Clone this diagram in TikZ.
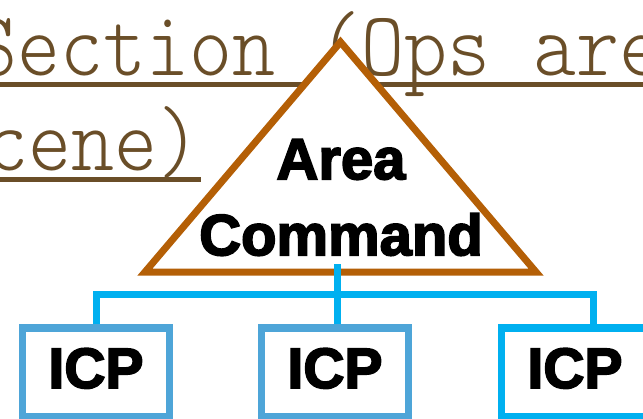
\documentclass[tikz,border=0pt]{standalone}
\usepackage{fontspec}
\newfontfamily\labfont[BoldFeatures={FakeBold=3}]{Liberation Sans}
\newfontfamily\bgfont{Latin Modern Mono Light}
\definecolor{txtbrown}{RGB}{106,78,40}
\definecolor{tribrown}{RGB}{180,95,6}
\definecolor{connblue}{RGB}{0,176,240}
\definecolor{boxblue}{RGB}{78,165,216}
\begin{document}
\begin{tikzpicture}[x=1pt,y=-1pt,
  bgtext/.style={anchor=base west,inner sep=0pt,text=txtbrown,font=\bgfont\fontsize{81.9pt}{95pt}\selectfont},
  uline/.style={draw=txtbrown,line width=5pt},
  tri/.style={draw=tribrown,fill=white,line width=7pt,line join=miter},
  conn/.style={draw=connblue,line width=7pt},
  icpbox/.style={draw=boxblue,fill=white,line width=7.5pt,minimum width=147pt,minimum height=89pt,inner sep=0pt,text height=40pt,text depth=9pt,font=\labfont\bfseries\fontsize{57pt}{60pt}\selectfont},
  lbl/.style={align=center,inner sep=0pt,font=\labfont\bfseries\fontsize{58pt}{76pt}\selectfont}]
\useasboundingbox (0,0) rectangle (643,418);
\clip (0,0) rectangle (643,418);
% background text
\node[bgtext] (l1) at (-25.5,75) {\scalebox{1}[1.12]{Section (Ops are}};
\node[bgtext] (l2) at (-14.5,170) {\scalebox{1}[1.12]{cene)}};
\draw[uline] (0,84.5) -- (643,84.5);
\draw[uline] (0,179) -- (200.5,179);
% triangle
\coordinate (ta) at (340.5,42);
\coordinate (tl) at (145,272);
\coordinate (tr) at (536,272);
\draw[tri] (ta) -- (tl) -- (tr) -- cycle;
\coordinate (tb) at (337.5,264);
\coordinate (bar) at (337.5,294.5);
% boxes
\node[icpbox] (icp1) at (96,372.5) {ICP};
\node[icpbox] (icp2) at (335,372.5) {ICP};
\node[icpbox,draw=connblue] (icp3) at (575,372.5) {ICP};
% connectors
\draw[conn] (tb) -- (tb |- icp2.north);
\draw[conn] (icp1.north) |- (bar) -| ([xshift=18pt]icp3.north);
% label
\node[lbl] (ac) at (341,197.5) {Area\\Command};
\end{tikzpicture}
\end{document}
